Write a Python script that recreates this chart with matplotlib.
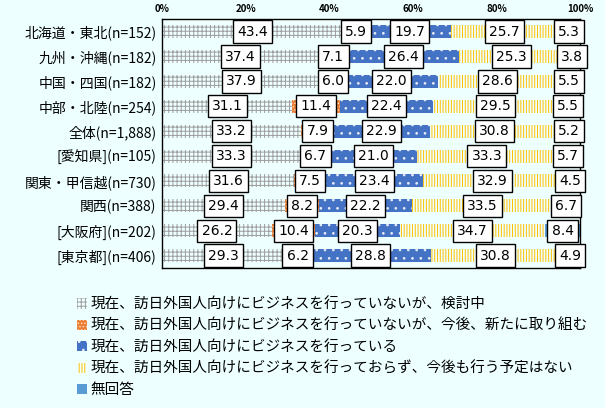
import numpy as np
import matplotlib
matplotlib.use('Agg')
import matplotlib.pyplot as plt
from matplotlib.patches import Patch

plt.rcParams['font.family'] = ['Noto Sans CJK JP', 'DejaVu Sans']
plt.rcParams['hatch.linewidth'] = 0.7

# data (top to bottom)
categories = ['北海道・東北(n=152)', '九州・沖縄(n=182)', '中国・四国(n=182)',
              '中部・北陸(n=254)', '全体(n=1,888)', '[愛知県](n=105)',
              '関東・甲信越(n=730)', '関西(n=388)', '[大阪府](n=202)', '[東京都](n=406)']
considering = [43.4, 37.4, 37.9, 31.1, 33.2, 33.3, 31.6, 29.4, 26.2, 29.3]
will_start = [5.9, 7.1, 6.0, 11.4, 7.9, 6.7, 7.5, 8.2, 10.4, 6.2]
doing = [19.7, 26.4, 22.0, 22.4, 22.9, 21.0, 23.4, 22.2, 20.3, 28.8]
no_plan = [25.7, 25.3, 28.6, 29.5, 30.8, 33.3, 32.9, 33.5, 34.7, 30.8]
no_answer = [5.3, 3.8, 5.5, 5.5, 5.2, 5.7, 4.5, 6.7, 8.4, 4.9]

series_labels = ['現在、訪日外国人向けにビジネスを行っていないが、検討中',
                 '現在、訪日外国人向けにビジネスを行っていないが、今後、新たに取り組む',
                 '現在、訪日外国人向けにビジネスを行っている',
                 '現在、訪日外国人向けにビジネスを行っておらず、今後も行う予定はない',
                 '無回答']

bg = '#EEFFFF'
styles = [
    dict(facecolor=bg, edgecolor='#9E9E9E', hatch='++++'),
    dict(facecolor='#ED7D31', edgecolor='#FBE0C8', hatch='.....'),
    dict(facecolor='#4472C4', edgecolor='#E8EEF8', hatch='..'),
    dict(facecolor=bg, edgecolor='#FFC000', hatch='||||||'),
    dict(facecolor='#5B9BD5', edgecolor='#5B9BD5', hatch=None),
]

data = [considering, will_start, doing, no_plan, no_answer]

fig = plt.figure(figsize=(6.05, 4.08), dpi=100, facecolor=bg)
ax = fig.add_axes([0.268, 0.343, 0.691, 0.610])
ax.set_facecolor(bg)

y = np.arange(len(categories))
left = np.zeros(len(categories))
for vals, st in zip(data, styles):
    vals = np.array(vals)
    ax.barh(y, vals, left=left, height=0.52, linewidth=0, **st)
    for yi, l, v in zip(y, left, vals):
        ax.text(l + v / 2, yi, f'{v:.1f}', ha='center', va='center', fontsize=10,
                family='DejaVu Sans',
                bbox=dict(boxstyle='square,pad=0.3', facecolor='white',
                          edgecolor='black', linewidth=1.0), zorder=5)
    left += vals

ax.set_xlim(0, 100)
ax.set_ylim(len(categories) - 0.5, -0.5)
ax.set_yticks(y)
ax.set_yticklabels(categories, fontsize=10)
ax.set_xticks(np.arange(0, 101, 20))
ax.set_xticklabels([f'{t}%' for t in range(0, 101, 20)], fontsize=7, fontweight='bold')
ax.xaxis.tick_top()
ax.tick_params(axis='both', length=0, pad=4)
for s in ax.spines.values():
    s.set_linewidth(1.0)
    s.set_color('black')

handles = [Patch(**st, linewidth=0) for st in styles]
fig.legend(handles, series_labels, loc='upper left', bbox_to_anchor=(0.118, 0.285),
           frameon=False, fontsize=10.5, handlelength=0.7, handleheight=0.7,
           handletextpad=0.2, labelspacing=0.5, borderaxespad=0)

fig.savefig('out.png', dpi=100, facecolor=bg)
